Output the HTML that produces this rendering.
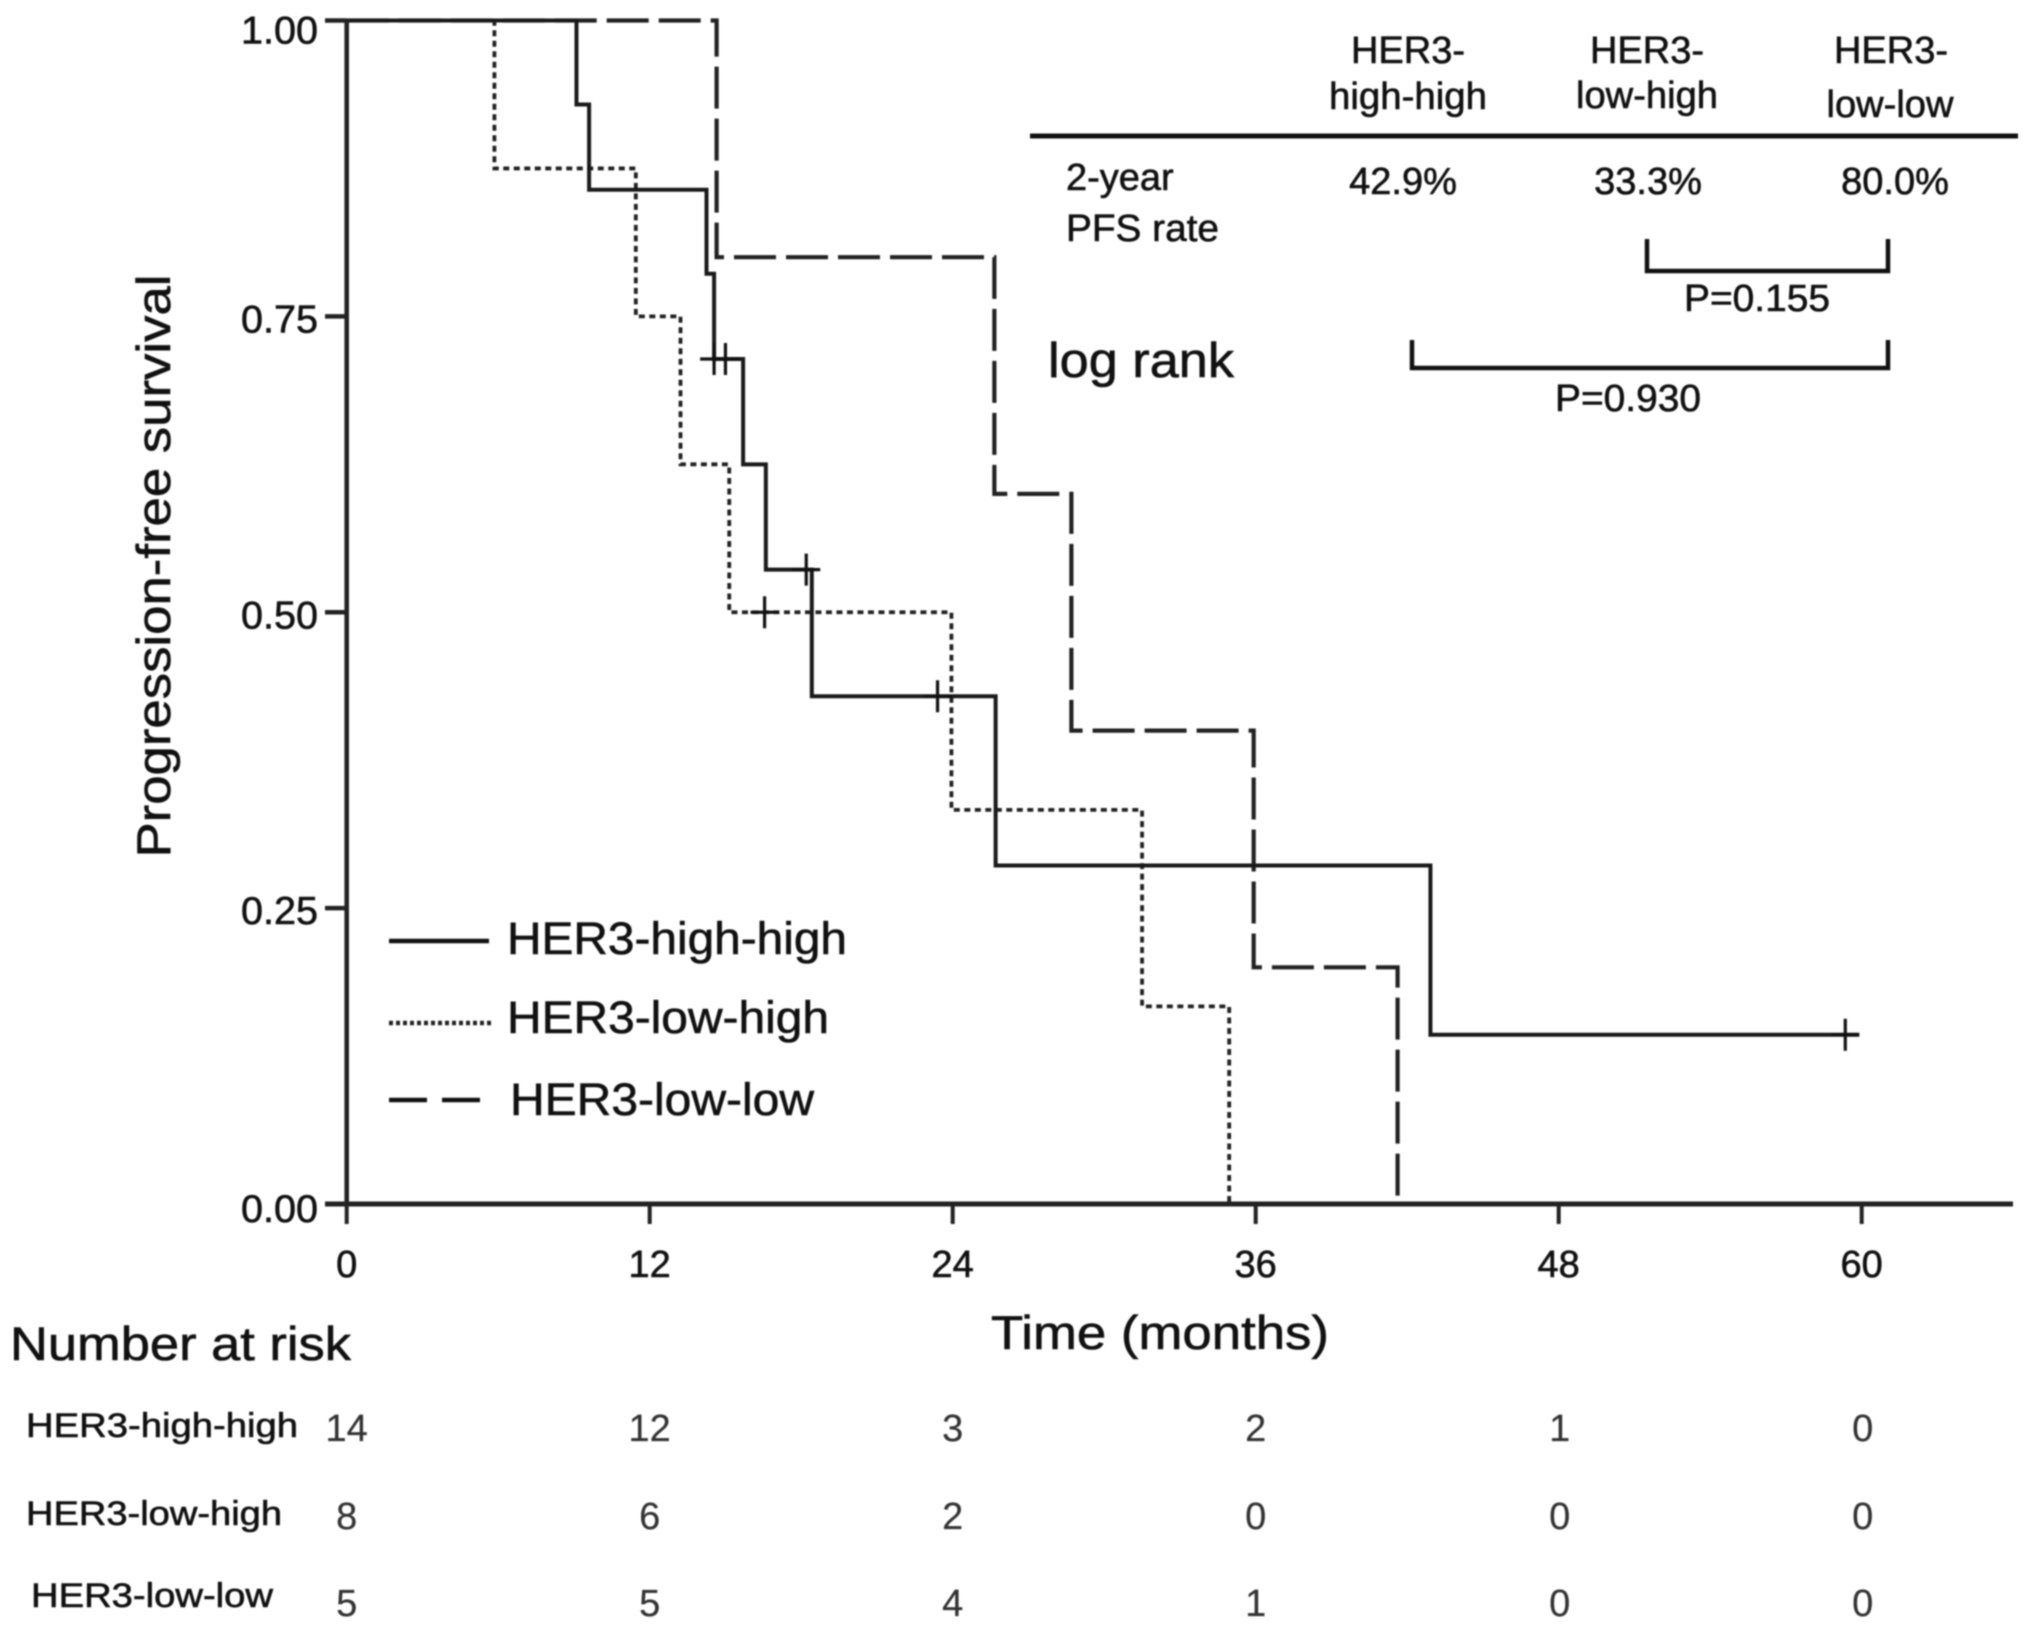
<!DOCTYPE html>
<html lang="en">
<head>
<meta charset="utf-8">
<title>Progression-free survival by HER3 group</title>
<style>
html,body{margin:0;padding:0;background:#fff;}
#chart{display:block;width:2031px;height:1629px;filter:blur(0.8px);}
text{font-family:"Liberation Sans",Arial,sans-serif;fill:#111;stroke:#111;stroke-width:0.6px;}
</style>
</head>
<body>
<svg id="chart" xmlns="http://www.w3.org/2000/svg" width="2031" height="1629" viewBox="0 0 2031 1629">
  <rect width="2031" height="1629" fill="#fff"/>
  <g id="series-layer"></g>
  <g id="axes-layer"></g>

  <text transform="translate(170,566) rotate(-90)" text-anchor="middle" font-size="47" textLength="583" lengthAdjust="spacingAndGlyphs">Progression-free survival</text>
  <text x="1160" y="1349" text-anchor="middle" font-size="47" textLength="338" lengthAdjust="spacingAndGlyphs">Time (months)</text>

  <g>
    <line x1="389" y1="941" x2="489" y2="941" stroke="#111" stroke-width="4.5"/>
    <text x="507" y="954" font-size="45" textLength="340" lengthAdjust="spacingAndGlyphs">HER3-high-high</text>
    <line x1="389" y1="1023" x2="491" y2="1023" stroke="#222" stroke-width="4.5" stroke-dasharray="4 3"/>
    <text x="507" y="1033" font-size="45" textLength="322" lengthAdjust="spacingAndGlyphs">HER3-low-high</text>
    <line x1="389" y1="1100" x2="481" y2="1100" stroke="#111" stroke-width="4.5" stroke-dasharray="38 15"/>
    <text x="510" y="1115" font-size="45" textLength="304" lengthAdjust="spacingAndGlyphs">HER3-low-low</text>
  </g>

  <g font-size="38" text-anchor="middle">
    <text x="1408" y="63">HER3-</text>
    <text x="1408" y="109" textLength="158" lengthAdjust="spacingAndGlyphs">high-high</text>
    <text x="1647" y="63">HER3-</text>
    <text x="1647" y="108" textLength="142" lengthAdjust="spacingAndGlyphs">low-high</text>
    <text x="1891" y="63">HER3-</text>
    <text x="1890" y="117" textLength="127" lengthAdjust="spacingAndGlyphs">low-low</text>
    <line x1="1030" y1="136" x2="2018" y2="136" stroke="#111" stroke-width="5"/>
    <text x="1066" y="190" text-anchor="start">2-year</text>
    <text x="1066" y="241" text-anchor="start" textLength="153" lengthAdjust="spacingAndGlyphs">PFS rate</text>
    <text x="1403" y="194">42.9%</text>
    <text x="1648" y="194">33.3%</text>
    <text x="1895" y="194">80.0%</text>
    <path d="M1647 239V271H1888V239" fill="none" stroke="#111" stroke-width="4.5"/>
    <text x="1757" y="311" textLength="146" lengthAdjust="spacingAndGlyphs">P=0.155</text>
    <path d="M1412 340V368H1888V340" fill="none" stroke="#111" stroke-width="4.5"/>
    <text x="1628" y="411" textLength="146" lengthAdjust="spacingAndGlyphs">P=0.930</text>
    <text x="1048" y="377" text-anchor="start" font-size="49" textLength="186" lengthAdjust="spacingAndGlyphs">log rank</text>
  </g>

  <text x="10" y="1360" font-size="47" textLength="341" lengthAdjust="spacingAndGlyphs">Number at risk</text>
  <g id="risk-layer"></g>
</svg>
<script>
const monthTicks = [0, 12, 24, 36, 48, 60];
const survivalTicks = [1.00, 0.75, 0.50, 0.25, 0.00];
const survivalTickLabels = ['1.00', '0.75', '0.50', '0.25', '0.00'];

const highHighTimes = [0, 9.1, 9.6, 14.25, 14.55, 15.7, 16.6, 18.42, 25.7, 42.92, 59.9];
const highHighSurvival = [1, 0.929, 0.857, 0.786, 0.714, 0.625, 0.536, 0.429, 0.286, 0.143, 0.143];
const highHighCensorTimes = [14.55, 15.0, 18.2, 23.4, 59.35];
const highHighCensorSurvival = [0.714, 0.714, 0.536, 0.429, 0.143];

const lowHighTimes = [0, 5.85, 11.45, 13.22, 15.15, 23.95, 31.5, 34.95];
const lowHighSurvival = [1, 0.875, 0.75, 0.625, 0.5, 0.333, 0.167, 0];
const lowHighCensorTimes = [16.55];
const lowHighCensorSurvival = [0.5];

const lowLowTimes = [0, 14.65, 25.65, 28.7, 35.92, 41.62];
const lowLowSurvival = [1, 0.8, 0.6, 0.4, 0.2, 0];

const riskGroups = ['HER3-high-high', 'HER3-low-high', 'HER3-low-low'];
const riskHighHigh = [14, 12, 3, 2, 1, 0];
const riskLowHigh = [8, 6, 2, 0, 0, 0];
const riskLowLow = [5, 5, 4, 1, 0, 0];

const NS = 'http://www.w3.org/2000/svg';
function xScale(m) { return 346.7 + m * 303 / 12; }
function yScale(s) { return 1204 - s * (1204 - 20.5); }
function make(tag, attrs, parent, text) {
  const el = document.createElementNS(NS, tag);
  for (const k in attrs) el.setAttribute(k, attrs[k]);
  if (text !== undefined) el.textContent = text;
  parent.appendChild(el);
  return el;
}
function stepPath(times, surv) {
  let d = 'M' + xScale(times[0]) + ' ' + yScale(surv[0]);
  for (let i = 1; i < times.length; i++) {
    d += 'H' + xScale(times[i]) + 'V' + yScale(surv[i]);
  }
  return d;
}
const seriesLayer = document.getElementById('series-layer');
const axesLayer = document.getElementById('axes-layer');
const riskLayer = document.getElementById('risk-layer');

const lowLowPath = make('path', {d: stepPath(lowLowTimes, lowLowSurvival), fill: 'none', stroke: '#222', 'stroke-width': 4.2, 'stroke-dasharray': '42 10'}, seriesLayer);



const lowHighPath = make('path', {d: stepPath(lowHighTimes, lowHighSurvival), fill: 'none', stroke: '#222', 'stroke-width': 3.8, 'stroke-dasharray': '6 4.5'}, seriesLayer);



const highHighPath = make('path', {d: stepPath(highHighTimes, highHighSurvival), fill: 'none', stroke: '#1a1a1a', 'stroke-width': 4}, seriesLayer);



function drawCensors(times, surv, name) {
  times.forEach(function (t, i) {
    const cx = xScale(t), cy = yScale(surv[i]);
    const mark = make('path', {d: 'M' + (cx - 14) + ' ' + cy + 'H' + (cx + 14) + 'M' + cx + ' ' + (cy - 16) + 'V' + (cy + 16), fill: 'none', stroke: '#111', 'stroke-width': 3.2}, seriesLayer);
    
    
  });
}
drawCensors(highHighCensorTimes, highHighCensorSurvival, 'censor-mark-high-high');
drawCensors(lowHighCensorTimes, lowHighCensorSurvival, 'censor-mark-low-high');

const yAxis = make('line', {x1: xScale(0), y1: yScale(1) - 2, x2: xScale(0), y2: yScale(0), stroke: '#222', 'stroke-width': 4.6}, axesLayer);



const xAxis = make('line', {x1: 325, y1: yScale(0), x2: 2013, y2: yScale(0), stroke: '#222', 'stroke-width': 5}, axesLayer);



survivalTicks.forEach(function (v, i) {
  const tick = make('line', {x1: 325, y1: yScale(v), x2: xScale(0), y2: yScale(v), stroke: '#222', 'stroke-width': 4.4}, axesLayer);
  
  
  const offs = [23, 16, 16, 16, 18];
  const label = make('text', {x: 318, y: yScale(v) + offs[i], 'text-anchor': 'end', 'font-size': 39, textLength: 77, lengthAdjust: 'spacingAndGlyphs'}, axesLayer, survivalTickLabels[i]);
  
  
});

monthTicks.forEach(function (m) {
  const tick = make('line', {x1: xScale(m), y1: yScale(0), x2: xScale(m), y2: 1224, stroke: '#222', 'stroke-width': 4}, axesLayer);
  
  
  const label = make('text', {x: xScale(m), y: 1277, 'text-anchor': 'middle', 'font-size': 38}, axesLayer, String(m));
  
  
});

const riskRows = [riskHighHigh, riskLowHigh, riskLowLow];
const riskBaselines = [1441, 1529, 1616];
const riskLabelBaselines = [1437, 1525, 1607];
const riskLabelX = [26, 26, 31];
const riskLabelWidths = [272, 256, 242];
riskGroups.forEach(function (g, r) {
  const lab = make('text', {x: riskLabelX[r], y: riskLabelBaselines[r], 'font-size': 34, textLength: riskLabelWidths[r], lengthAdjust: 'spacingAndGlyphs'}, riskLayer, g);
  
  
  riskRows[r].forEach(function (n, c) {
    const cell = make('text', {x: xScale(monthTicks[c]) + (c > 3 ? 1 : 0), y: riskBaselines[r], 'text-anchor': 'middle', 'font-size': 38, style: 'fill:#333;stroke:#333;stroke-width:0.2px'}, riskLayer, String(n));
    
    
  });
});
</script>
</body>
</html>
